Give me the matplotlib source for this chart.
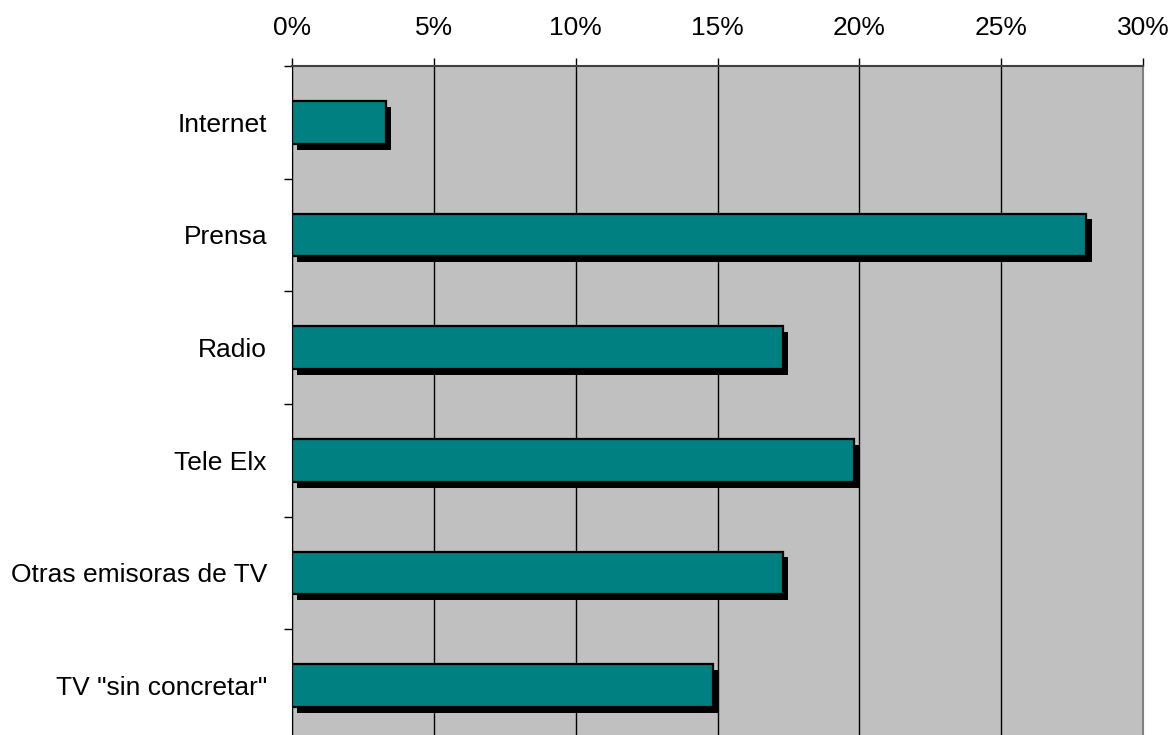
import matplotlib
matplotlib.use("Agg")
import matplotlib.pyplot as plt
import matplotlib.patheffects as pe
import numpy as np

categories = ["Internet", "Prensa", "Radio", "Tele Elx", "Otras emisoras de TV", 'TV "sin concretar"']
values = [3.3, 28.0, 17.3, 19.8, 17.3, 14.85]
xticks = [0, 5, 10, 15, 20, 25, 30]
xticklabels = ["0%", "5%", "10%", "15%", "20%", "25%", "30%"]

plt.rcParams['font.family'] = ['Liberation Sans', 'DejaVu Sans']

fig = plt.figure(figsize=(11.76, 7.35), dpi=100)
W, H = 1176, 735
left, right, top, bottom = 292, 1143, 66, 742
ax = fig.add_axes([left / W, 1 - bottom / H, (right - left) / W, (bottom - top) / H])
ax.set_facecolor("#C0C0C0")

n = len(categories)
ypos = np.arange(n) + 0.5
bars = ax.barh(ypos, values, height=0.38, color="#008080", edgecolor="black",
               linewidth=1.6, zorder=3)
for b in bars:
    b.set_path_effects([pe.SimplePatchShadow(offset=(3.8, -4.2), shadow_rgbFace="black", alpha=1.0),
                        pe.Normal()])

ax.set_xlim(0, 30)
ax.set_ylim(n, 0)
ax.xaxis.tick_top()
ax.set_xticks(xticks)
ax.set_xticklabels(xticklabels, fontsize=19)
ax.tick_params(axis="x", direction="out", length=6, width=1, pad=13, colors="black")
ax.xaxis.grid(True, color="black", linewidth=1, zorder=1)
ax.set_axisbelow(True)

ax.set_yticks(ypos)
ax.set_yticklabels(categories, fontsize=19)
ax.tick_params(axis="y", which="major", length=0, pad=18)
ax.set_yticks(np.arange(0, n + 1), minor=True)
ax.tick_params(axis="y", which="minor", direction="out", length=6, width=1, colors="black")

ax.spines["left"].set_color("black")
ax.spines["top"].set_color("#404040")
ax.spines["top"].set_linewidth(1.5)
ax.spines["right"].set_color("#808080")
ax.spines["right"].set_linewidth(1.5)
ax.spines["bottom"].set_visible(False)

fig.savefig("out.png", dpi=100)
